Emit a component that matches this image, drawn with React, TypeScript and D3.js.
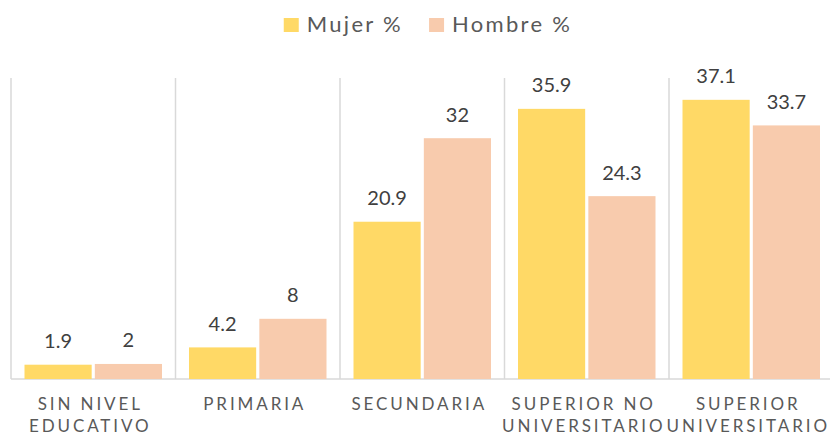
import React, {useRef, useEffect} from 'react';
import * as d3 from 'd3';

const width = 830;
const height = 438;

const categories = ['SIN NIVEL EDUCATIVO', 'PRIMARIA', 'SECUNDARIA', 'SUPERIOR NO UNIVERSITARIO', 'SUPERIOR UNIVERSITARIO'];
const categoryLines = [['SIN NIVEL', 'EDUCATIVO'], ['PRIMARIA'], ['SECUNDARIA'], ['SUPERIOR NO', 'UNIVERSITARIO'], ['SUPERIOR', 'UNIVERSITARIO']];
const seriesNames = ['Mujer %', 'Hombre %'];
const mujer = [1.9, 4.2, 20.9, 35.9, 37.1];
const hombre = [2, 8, 32, 24.3, 33.7];
const seriesColors = ['#FFD966', '#F8CBAD'];

const font = 'Lato, "Open Sans", sans-serif';

const draw = (container: SVGSVGElement) => {
  const svg = d3.select(container);
  svg.selectAll('*').remove();

  const x = d3.scaleBand<string>().domain(categories).range([11, 833.5]).padding(0);
  const inner = d3
    .scaleBand<string>()
    .domain(seriesNames)
    .range([13.5, x.bandwidth() - 13.5])
    .paddingInner(0.045);
  const y = d3.scaleLinear().domain([0, 40]).range([379, 78]);

  const values = [mujer, hombre];

  // separators + baseline
  const grid = svg.append('g').attr('stroke', '#d9d9d9').attr('stroke-width', 1.5);
  grid
    .selectAll('line.sep')
    .data(categories)
    .enter()
    .append('line')
    .attr('x1', d => x(d)!)
    .attr('x2', d => x(d)!)
    .attr('y1', y(40))
    .attr('y2', y(0));
  grid
    .append('line')
    .attr('x1', x.range()[0])
    .attr('x2', x.range()[1])
    .attr('y1', y(0))
    .attr('y2', y(0));

  // bars
  seriesNames.forEach((s, si) => {
    const g = svg.append('g');
    g.selectAll('rect')
      .data(categories)
      .enter()
      .append('rect')
      .attr('x', d => x(d)! + inner(s)!)
      .attr('width', inner.bandwidth())
      .attr('y', (d, i) => y(values[si][i]))
      .attr('height', (d, i) => y(0) - y(values[si][i]))
      .attr('fill', seriesColors[si]);
    g.selectAll('text')
      .data(categories)
      .enter()
      .append('text')
      .attr('x', d => x(d)! + inner(s)! + inner.bandwidth() / 2)
      .attr('y', (d, i) => y(values[si][i]) - 16.5)
      .attr('text-anchor', 'middle')
      .attr('font-family', font)
      .attr('font-size', 20)
      .attr('fill', '#404040')
      .text((d, i) => String(values[si][i]));
  });

  // category labels (letter-spaced caps, sitting a little left of centre)
  const ls = 2.9;
  const labels = svg
    .append('g')
    .attr('font-family', font)
    .attr('font-size', 17)
    .attr('fill', '#595959')
    .attr('letter-spacing', ls)
    .attr('text-anchor', 'middle');
  categories.forEach((c, ci) => {
    categoryLines[ci].forEach((line, li) => {
      labels
        .append('text')
        .attr('x', x(c)! + x.bandwidth() / 2 - 3)
        .attr('y', 410 + li * 22)
        .text(line);
    });
  });

  // legend
  const legend = svg.append('g').attr('font-family', font).attr('font-size', 22).attr('fill', '#595959');
  const items = seriesNames.map((s, i) => {
    const g = legend.append('g');
    g.append('rect').attr('x', 0).attr('y', 18).attr('width', 15).attr('height', 14).attr('fill', seriesColors[i]);
    const t = g.append('text').attr('x', 23).attr('y', 32).attr('letter-spacing', 2.3).text(s);
    const w = 23 + (t.node() as SVGTextElement).getComputedTextLength();
    return {g, w};
  });
  const gap = 26;
  const total = d3.sum(items, d => d.w) + gap * (items.length - 1);
  let cx = 428 - total / 2;
  items.forEach(it => {
    it.g.attr('transform', `translate(${cx},0)`);
    cx += it.w + gap;
  });
};

export default function App() {
  const svgRef = useRef<SVGSVGElement>(null);
  useEffect(() => {
    if (svgRef.current) {
      draw(svgRef.current);
    }
  }, []);
  return (
    <svg
      ref={svgRef}
      width={width}
      height={height}
      style={{position: 'absolute', left: 0, top: 0, background: '#fff'}}
    />
  );
}
